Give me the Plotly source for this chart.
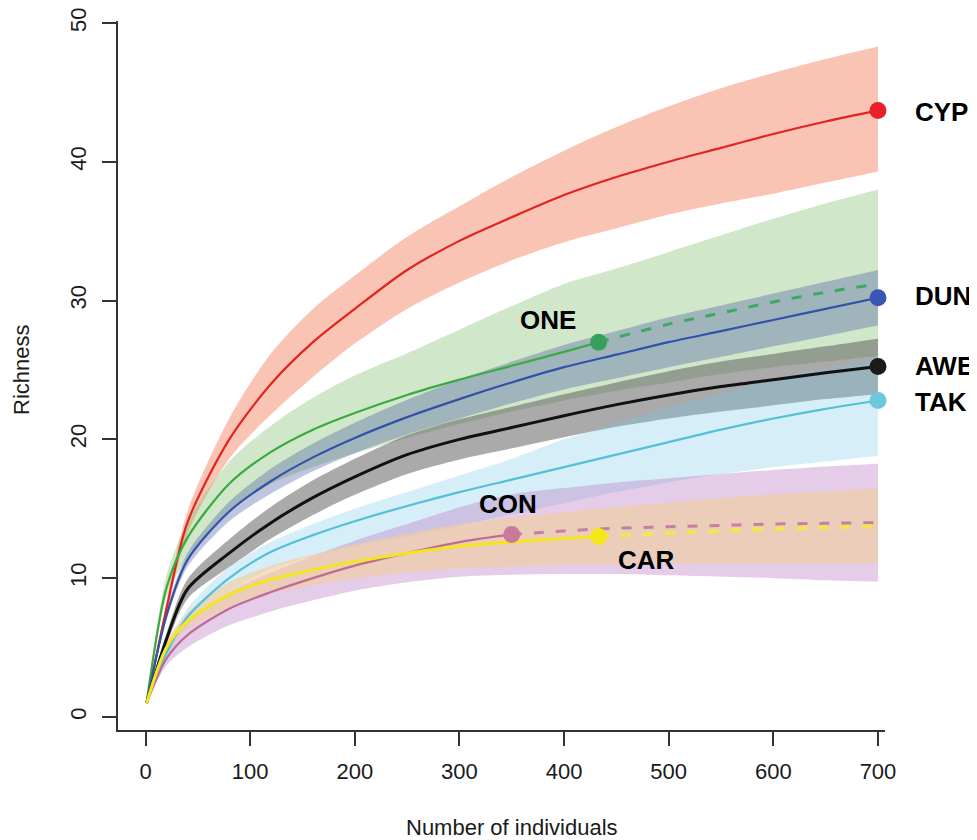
import plotly.graph_objects as go

# ---------------- data ----------------
X_GRID = [1, 20, 40, 80, 120, 160, 200, 250, 300, 350, 400, 450, 500, 550, 600, 650, 700]

# CYP (observed to 700)
cyp_y  = [1, 7.8, 14.0, 20.0, 24.0, 27.0, 29.4, 32.2, 34.3, 36.0, 37.6, 38.9, 40.0, 41.0, 42.0, 42.9, 43.7]
cyp_lo = [1, 7.3, 13.2, 18.6, 21.8, 24.5, 26.9, 29.4, 31.3, 32.9, 34.2, 35.2, 36.2, 37.0, 37.7, 38.5, 39.3]
cyp_hi = [1, 8.3, 14.8, 21.5, 26.2, 29.4, 31.8, 34.6, 36.8, 38.9, 40.8, 42.5, 44.0, 45.3, 46.4, 47.4, 48.3]

# ONE (observed to 433, extrapolated to 700)
one_x_obs = [1, 20, 40, 80, 120, 160, 200, 250, 300, 350, 400, 433]
one_y_obs = [1, 9.3, 12.9, 16.8, 19.1, 20.7, 21.9, 23.2, 24.3, 25.3, 26.3, 27.0]
one_x_ext = [433, 500, 550, 600, 650, 700]
one_y_ext = [27.0, 28.3, 29.1, 29.9, 30.6, 31.2]
one_lo = [1, 8.6, 11.5, 14.8, 16.8, 18.0, 19.0, 20.1, 21.1, 22.0, 22.8, 23.5, 24.1, 24.7, 25.2, 25.6, 26.0]
one_hi = [1, 10.2, 14.0, 18.4, 21.0, 23.0, 24.6, 26.2, 27.9, 29.6, 31.2, 32.3, 33.5, 34.7, 35.9, 37.0, 38.0]

# DUN
dun_y  = [1, 7.3, 11.3, 14.8, 17.0, 18.7, 20.1, 21.6, 22.9, 24.1, 25.2, 26.1, 27.0, 27.8, 28.6, 29.4, 30.2]
dun_lo = [1, 7.0, 10.8, 14.1, 16.1, 17.7, 19.0, 20.35, 21.5, 22.6, 23.6, 24.4, 25.2, 25.95, 26.7, 27.45, 28.2]
dun_hi = [1, 7.6, 11.8, 15.5, 17.9, 19.7, 21.2, 22.85, 24.3, 25.6, 26.8, 27.8, 28.8, 29.65, 30.5, 31.35, 32.2]

# AWE
awe_y  = [1, 5.6, 9.2, 11.8, 14.0, 15.8, 17.3, 18.9, 20.0, 20.85, 21.7, 22.5, 23.2, 23.8, 24.3, 24.8, 25.25]
awe_lo = [1, 5.2, 8.5, 10.8, 12.85, 14.55, 16.0, 17.5, 18.55, 19.35, 20.15, 20.9, 21.5, 22.0, 22.45, 22.9, 23.25]
awe_hi = [1, 6.0, 9.9, 12.8, 15.15, 17.05, 18.6, 20.3, 21.45, 22.35, 23.25, 24.1, 24.9, 25.6, 26.15, 26.7, 27.25]

# TAK
tak_y  = [1, 4.6, 7.2, 10.0, 11.9, 13.1, 14.1, 15.2, 16.2, 17.1, 18.0, 18.9, 19.8, 20.7, 21.5, 22.2, 22.8]
tak_lo = [1, 4.3, 6.6, 9.1, 10.7, 11.6, 12.3, 13.0, 13.8, 14.6, 15.4, 16.2, 16.9, 17.5, 18.0, 18.4, 18.8]
tak_hi = [1, 4.9, 7.8, 10.8, 12.6, 13.9, 15.0, 16.2, 17.4, 18.6, 20.0, 21.2, 22.3, 23.3, 24.35, 25.1, 25.8]

# CON (observed to 350, extrapolated to 700)
con_x_obs = [1, 20, 40, 80, 120, 160, 200, 250, 300, 350]
con_y_obs = [1, 4.2, 5.9, 7.8, 9.0, 10.0, 10.9, 11.8, 12.6, 13.15]
con_x_ext = [350, 400, 450, 500, 550, 600, 650, 700]
con_y_ext = [13.15, 13.4, 13.6, 13.7, 13.8, 13.9, 13.95, 14.0]
con_lo = [1, 3.7, 5.0, 6.6, 7.6, 8.4, 9.1, 9.7, 10.1, 10.25, 10.3, 10.3, 10.2, 10.1, 10.0, 9.85, 9.75]
con_hi = [1, 4.7, 6.8, 9.0, 10.4, 11.6, 12.7, 13.9, 15.1, 16.05, 16.5, 16.9, 17.2, 17.5, 17.8, 18.05, 18.25]

# CAR (observed to 433, extrapolated to 700)
car_x_obs = [1, 20, 40, 80, 120, 160, 200, 250, 300, 350, 400, 433]
car_y_obs = [1, 5.0, 6.9, 8.8, 9.9, 10.6, 11.2, 11.8, 12.3, 12.6, 12.85, 13.0]
car_x_ext = [433, 500, 550, 600, 650, 700]
car_y_ext = [13.0, 13.25, 13.4, 13.55, 13.65, 13.75]
car_lo = [1, 4.6, 6.3, 7.9, 8.9, 9.5, 9.95, 10.4, 10.7, 10.85, 10.95, 11.0, 11.05, 11.05, 11.05, 11.05, 11.05]
car_hi = [1, 5.4, 7.5, 9.7, 10.9, 11.7, 12.45, 13.2, 13.9, 14.35, 14.75, 15.1, 15.45, 15.75, 16.05, 16.25, 16.45]

X_TICKS = [0, 100, 200, 300, 400, 500, 600, 700]
Y_TICKS = [0, 10, 20, 30, 40, 50]

FONT = "Liberation Sans, Arial, sans-serif"

# ---------------- styles ----------------
series = [
    dict(name="CYP", x_obs=X_GRID, y_obs=cyp_y, x_ext=None, y_ext=None, lo=cyp_lo, hi=cyp_hi,
         line="#e2231f", width=2.2, marker="#e8202a", band="rgba(240,115,75,0.42)",
         label_shift=(35, -2), anchor="left"),
    dict(name="ONE", x_obs=one_x_obs, y_obs=one_y_obs, x_ext=one_x_ext, y_ext=one_y_ext, lo=one_lo, hi=one_hi,
         line="#3aab40", width=2.2, marker="#35a05c", band="rgba(120,185,100,0.34)", dash="#3da862",
         label_shift=(-51, 22), anchor="center"),
    dict(name="DUN", x_obs=X_GRID, y_obs=dun_y, x_ext=None, y_ext=None, lo=dun_lo, hi=dun_hi,
         line="#3550a8", width=2.2, marker="#3a55b5", band="rgba(70,90,160,0.35)",
         label_shift=(35, 2), anchor="left"),
    dict(name="AWE", x_obs=X_GRID, y_obs=awe_y, x_ext=None, y_ext=None, lo=awe_lo, hi=awe_hi,
         line="#111111", width=3, marker="#1b1b1b", band="rgba(85,85,85,0.5)",
         label_shift=(35, 0), anchor="left"),
    dict(name="TAK", x_obs=X_GRID, y_obs=tak_y, x_ext=None, y_ext=None, lo=tak_lo, hi=tak_hi,
         line="#52c0d8", width=2.2, marker="#6cc8dc", band="rgba(120,200,230,0.3)",
         label_shift=(35, -2), anchor="left"),
    dict(name="CON", x_obs=con_x_obs, y_obs=con_y_obs, x_ext=con_x_ext, y_ext=con_y_ext, lo=con_lo, hi=con_hi,
         line="#c06c92", width=2.2, marker="#c87a9c", band="rgba(190,130,200,0.4)", dash="#c4809e",
         label_shift=(-4, 30), anchor="center"),
    dict(name="CAR", x_obs=car_x_obs, y_obs=car_y_obs, x_ext=car_x_ext, y_ext=car_y_ext, lo=car_lo, hi=car_hi,
         line="#f3e520", width=3, marker="#f5e61a", band="rgba(240,205,160,0.65)", dash="#f3e84a",
         label_shift=(48, -23), anchor="center"),
]

fig = go.Figure()

# confidence bands: lower edge, then upper edge filled down to it
for s in series:
    fig.add_trace(go.Scatter(
        x=X_GRID, y=s["lo"], mode="lines",
        line=dict(width=0, color=s["band"], shape="spline", smoothing=0.8),
        hoverinfo="skip", showlegend=False))
    fig.add_trace(go.Scatter(
        x=X_GRID, y=s["hi"], mode="lines", fill="tonexty", fillcolor=s["band"],
        line=dict(width=0, color=s["band"], shape="spline", smoothing=0.8),
        hoverinfo="skip", showlegend=False))

# lines
for s in series:
    if s["x_ext"] is not None:
        fig.add_trace(go.Scatter(
            x=s["x_ext"], y=s["y_ext"], mode="lines",
            line=dict(color=s["dash"], width=s["width"] + 0.8, dash="10px,12px", shape="spline"),
            showlegend=False, hoverinfo="skip"))
    fig.add_trace(go.Scatter(
        x=s["x_obs"], y=s["y_obs"], mode="lines",
        line=dict(color=s["line"], width=s["width"], shape="spline", smoothing=0.8),
        showlegend=False, hoverinfo="skip"))

# end-point markers and labels
for s in series:
    fig.add_trace(go.Scatter(
        x=[s["x_obs"][-1]], y=[s["y_obs"][-1]], mode="markers",
        marker=dict(color=s["marker"], size=17), showlegend=False, hoverinfo="skip", cliponaxis=False))
    fig.add_annotation(
        x=s["x_obs"][-1], y=s["y_obs"][-1], text="<b>%s</b>" % s["name"], showarrow=False,
        xanchor=s["anchor"], yanchor="middle", xshift=s["label_shift"][0], yshift=s["label_shift"][1],
        font=dict(family=FONT, size=26, color="#000000"))

# axis titles
fig.add_annotation(x=350, y=0, xref="x", yref="paper", text="Number of individuals", showarrow=False,
                   xanchor="center", yanchor="middle", yshift=-97,
                   font=dict(family=FONT, size=22, color="#1a1a1a"))
fig.add_annotation(x=0, y=25, xref="paper", yref="y", text="Richness", showarrow=False, textangle=-90,
                   xanchor="center", yanchor="middle", xshift=-96,
                   font=dict(family=FONT, size=22, color="#1a1a1a"))

axis_common = dict(showgrid=False, zeroline=False, showline=True, linecolor="#333333", linewidth=1.6,
                   ticks="outside", ticklen=14, tickwidth=1.6, tickcolor="#333333", automargin=False,
                   ticklabeloverflow="allow",
                   tickfont=dict(family=FONT, size=22, color="#1a1a1a"))

fig.update_xaxes(range=[-26.3, 706.7], tickvals=X_TICKS, ticktext=[str(v) for v in X_TICKS],
                 ticklabelstandoff=7, **axis_common)
fig.update_yaxes(range=[-0.94, 50.14], tickvals=Y_TICKS, ticktext=[str(v) for v in Y_TICKS],
                 tickangle=-90, ticklabelstandoff=7, **axis_common)

# the page body adds an 8 px offset, so the figure is 8 px smaller and margins compensate
fig.update_layout(width=969, height=832, margin=dict(l=110, r=92, t=13, b=110),
                  plot_bgcolor="white", paper_bgcolor="white", showlegend=False)

fig.write_html("out.html")
